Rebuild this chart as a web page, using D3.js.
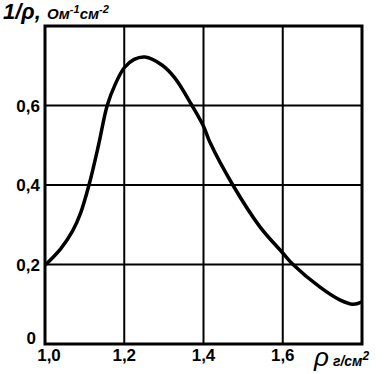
<!DOCTYPE html>
<html>
<head>
<meta charset="utf-8">
<title>Conductivity</title>
<script src="https://cdn.jsdelivr.net/npm/d3@7"></script>
<style>
  body { margin: 0; background: #fff; }
  text { font-family: "Liberation Sans", Arial, sans-serif; font-weight: bold; fill: #000; }
</style>
</head>
<body>
<div id="chart"></div>
<script>
// density, g/cm3
var rho = [1.00, 1.04, 1.07, 1.09, 1.111, 1.135, 1.157, 1.178, 1.20, 1.225, 1.252, 1.295, 1.328,
           1.371, 1.40, 1.416, 1.474, 1.543, 1.60, 1.626, 1.694, 1.744, 1.777, 1.80];
// conductivity 1/rho, Ohm^-1 cm^-1
var cond = [0.198, 0.240, 0.285, 0.33, 0.40, 0.50, 0.60, 0.655, 0.695, 0.716, 0.722, 0.702, 0.669,
            0.60, 0.548, 0.508, 0.40, 0.294, 0.229, 0.20, 0.143, 0.111, 0.10, 0.106];
var xTicks = [1.0, 1.2, 1.4, 1.6];
var yTicks = [0, 0.2, 0.4, 0.6];
var xGrid = [1.2, 1.4, 1.6];
var yGrid = [0.2, 0.4, 0.6];

var width = 389, height = 374;
var x = d3.scaleLinear().domain([1.0, 1.8]).range([45, 362]);
var y = d3.scaleLinear().domain([0, 0.8]).range([344, 26]);

var svg = d3.select("#chart").append("svg")
  .attr("width", width)
  .attr("height", height);

// grid
svg.selectAll("line.vg").data(xGrid).enter().append("line")
  .attr("x1", function(d) { return x(d); })
  .attr("x2", function(d) { return x(d); })
  .attr("y1", y(0.8)).attr("y2", y(0))
  .attr("stroke", "#000").attr("stroke-width", 2);
svg.selectAll("line.hg").data(yGrid).enter().append("line")
  .attr("y1", function(d) { return y(d); })
  .attr("y2", function(d) { return y(d); })
  .attr("x1", x(1.0)).attr("x2", x(1.8))
  .attr("stroke", "#000").attr("stroke-width", 2);

// frame
svg.append("rect")
  .attr("x", x(1.0)).attr("y", y(0.8))
  .attr("width", x(1.8) - x(1.0)).attr("height", y(0) - y(0.8))
  .attr("fill", "none").attr("stroke", "#000").attr("stroke-width", 3);

// curve
var pts = rho.map(function(d, i) { return [d, cond[i]]; });
var line = d3.line()
  .x(function(d) { return x(d[0]); })
  .y(function(d) { return y(d[1]); })
  .curve(d3.curveCatmullRom.alpha(0.5));
svg.append("path").datum(pts)
  .attr("d", line)
  .attr("fill", "none").attr("stroke", "#000").attr("stroke-width", 3.5);

// x tick labels
svg.selectAll("text.xt").data(xTicks).enter().append("text")
  .attr("x", function(d) { return x(d) + (d === 1.0 ? 4 : 0); })
  .attr("y", 361)
  .attr("text-anchor", "middle")
  .style("font-size", "17px")
  .text(function(d) { return d3.format(".1f")(d).replace(".", ","); });

// y tick labels
svg.selectAll("text.yt").data(yTicks).enter().append("text")
  .attr("x", function(d) { return d === 0 ? 36 : 40; })
  .attr("y", function(d) { return d === 0 ? y(d) : y(d) + 6; })
  .attr("text-anchor", "end")
  .style("font-size", "17px")
  .text(function(d) { return d === 0 ? "0" : d3.format(".1f")(d).replace(".", ","); });

// y title
var yt = svg.append("text").attr("x", 3).attr("y", 19).style("font-style", "italic");
yt.append("tspan").style("font-size", "22px").text("1/\u03c1, ");
yt.append("tspan").style("font-size", "15px").text("Ом");
yt.append("tspan").style("font-size", "11px").attr("dy", -6).text("-1");
yt.append("tspan").style("font-size", "15px").attr("dy", 6).text("см");
yt.append("tspan").style("font-size", "11px").attr("dy", -6).text("-2");

// x title
var xt = svg.append("text").attr("x", 314).attr("y", 366).style("font-style", "italic");
xt.append("tspan").style("font-size", "26px").style("font-weight", "normal").text("\u03c1");
xt.append("tspan").style("font-size", "14px").attr("dx", 4).text("г/см");
xt.append("tspan").style("font-size", "12px").attr("dy", -6).text("2");
</script>
</body>
</html>
